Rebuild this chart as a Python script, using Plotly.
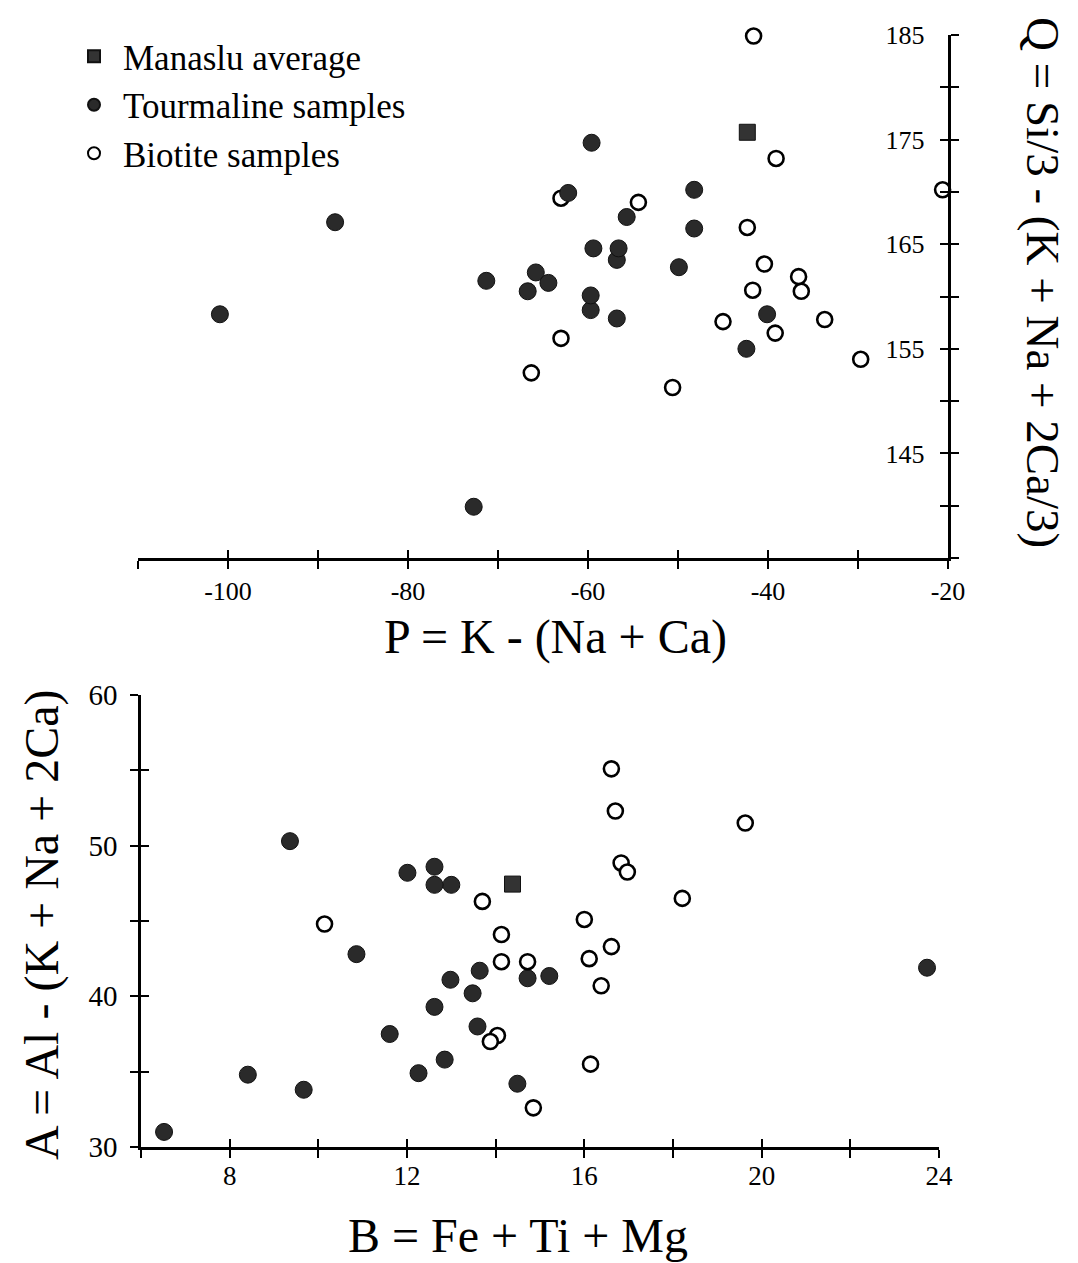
import plotly.graph_objects as go

# ---------------- data: top panel (P vs Q) ----------------
tour_P = [-59.7, -56.8, -100.9, -88.1, -72.7, -71.3, -66.7, -65.8, -64.4, -59.7,
          -56.8, -49.9, -42.4, -40.1, -59.6, -62.2, -48.2, -55.7, -48.2, -59.4, -56.6]
tour_Q = [158.7, 163.5, 158.3, 167.1, 139.9, 161.5, 160.5, 162.3, 161.3, 160.1,
          157.9, 162.8, 155.0, 158.3, 174.7, 169.9, 170.2, 167.6, 166.5, 164.6, 164.6]
bio_P = [-63.0, -36.3, -41.6, -39.1, -20.6, -54.4, -42.3, -40.4, -36.6, -41.7,
         -45.0, -39.2, -33.7, -29.7, -50.6, -63.0, -66.3]
bio_Q = [169.4, 160.5, 184.9, 173.2, 170.2, 169.0, 166.6, 163.1, 161.9, 160.6,
         157.6, 156.5, 157.8, 154.0, 151.3, 156.0, 152.7]
avg_P = [-42.3]
avg_Q = [175.7]

# ---------------- data: bottom panel (B vs A) ----------------
tour_B = [6.52, 8.41, 9.67, 10.86, 11.61, 12.26, 12.62, 12.85, 12.98, 13.48, 13.59,
          13.64, 14.72, 15.21, 14.49, 23.73, 9.36, 12.01, 12.62, 13.0, 12.62]
tour_A = [31.0, 34.8, 33.8, 42.8, 37.5, 34.9, 39.3, 35.8, 41.1, 40.2, 38.0,
          41.7, 41.2, 41.35, 34.2, 41.9, 50.3, 48.2, 48.6, 47.4, 47.4]
bio_B = [13.70, 10.14, 16.61, 16.70, 19.63, 16.83, 16.97, 18.21, 16.0, 14.13,
         14.13, 14.72, 16.11, 16.61, 16.38, 14.04, 13.88, 16.14, 14.85]
bio_A = [46.3, 44.8, 55.1, 52.3, 51.5, 48.85, 48.25, 46.5, 45.1, 44.1,
         42.3, 42.3, 42.5, 43.3, 40.7, 37.4, 37.0, 35.5, 32.6]
avg_B = [14.38]
avg_A = [47.45]

# tick definitions
p_ticks = list(range(-110, -19, 10))
p_labels = ["-100", "-80", "-60", "-40", "-20"]
q_ticks = list(range(135, 186, 5))
q_labels = ["145", "155", "165", "175", "185"]
b_ticks = list(range(6, 25, 2))
b_labels = ["8", "12", "16", "20", "24"]
a_ticks = list(range(30, 61, 5))
a_labels = ["30", "40", "50", "60"]

def ttext(vals, labels):
    return [str(v) if str(v) in labels else "" for v in vals]

W, H = 1078, 1263

def px(X):
    return X / W

def py(Y):
    return 1 - Y / H

FONT = "Liberation Serif"
BLACK = "#000000"
FILL = "#2a2a2a"

filled = dict(symbol="circle", size=17, color=FILL, line=dict(color="#111111", width=1))
openm = dict(symbol="circle", size=15, color="white", line=dict(color=BLACK, width=2.6))
square = dict(symbol="square", size=16, color="#333333", line=dict(color="#111111", width=1))

fig = go.Figure()

# top panel: biotite behind tourmaline
fig.add_trace(go.Scatter(x=bio_P, y=bio_Q, mode="markers", marker=openm, cliponaxis=False,
                         name="Biotite samples", legendrank=3, xaxis="x", yaxis="y"))
fig.add_trace(go.Scatter(x=tour_P, y=tour_Q, mode="markers", marker=filled, cliponaxis=False,
                         name="Tourmaline samples", legendrank=2, xaxis="x", yaxis="y"))
fig.add_trace(go.Scatter(x=avg_P, y=avg_Q, mode="markers", marker=square, cliponaxis=False,
                         name="Manaslu average", legendrank=1, xaxis="x", yaxis="y"))

# bottom panel: tourmaline behind biotite
fig.add_trace(go.Scatter(x=tour_B, y=tour_A, mode="markers", marker=filled, cliponaxis=False,
                         showlegend=False, xaxis="x2", yaxis="y2"))
fig.add_trace(go.Scatter(x=bio_B, y=bio_A, mode="markers", marker=openm, cliponaxis=False,
                         showlegend=False, xaxis="x2", yaxis="y2"))
fig.add_trace(go.Scatter(x=avg_B, y=avg_A, mode="markers", marker=square, cliponaxis=False,
                         showlegend=False, xaxis="x2", yaxis="y2"))

# empty traces to hold the overlay tick axes (inner half of crossing ticks)
fig.add_trace(go.Scatter(x=[], y=[], showlegend=False, xaxis="x3", yaxis="y3"))
fig.add_trace(go.Scatter(x=[], y=[], showlegend=False, xaxis="x4", yaxis="y4"))

tickfont = dict(family=FONT, size=26, color=BLACK)
common = dict(showgrid=False, zeroline=False, tickmode="array", tickcolor=BLACK,
              tickwidth=2, ticklen=8, automargin=False, ticklabeloverflow="allow")

top_dx = [px(138), px(948)]
top_dy = [py(558), py(35)]
bot_dx = [px(141), px(939)]
bot_dy = [py(1147), py(695)]

fig.update_layout(
    template="none",
    width=W, height=H,
    margin=dict(l=0, r=0, t=0, b=0, pad=0),
    paper_bgcolor="white", plot_bgcolor="rgba(0,0,0,0)",
    font=dict(family=FONT, color=BLACK),
    xaxis=dict(domain=top_dx, range=[-110, -20], anchor="y", showline=True,
               linecolor=BLACK, linewidth=2.5, ticks="outside",
               tickvals=p_ticks, ticktext=ttext(p_ticks, p_labels),
               tickfont=tickfont, **common),
    yaxis=dict(domain=top_dy, range=[135, 185], anchor="x", side="right",
               showline=True, linecolor=BLACK, linewidth=2.5, ticks="outside",
               ticklabelposition="inside", ticklabelstandoff=26,
               tickvals=q_ticks, ticktext=ttext(q_ticks, q_labels),
               tickfont=tickfont, **common),
    xaxis3=dict(overlaying="x", range=[-110, -20], anchor="y", ticks="inside",
                tickvals=p_ticks, showticklabels=False, showline=False, **common),
    yaxis3=dict(overlaying="y", range=[135, 185], anchor="x", side="right",
                ticks="inside", tickvals=q_ticks, showticklabels=False,
                showline=False, **common),
    xaxis2=dict(domain=bot_dx, range=[6, 24], anchor="y2", showline=True,
                linecolor=BLACK, linewidth=2.5, ticks="outside",
                ticklabelstandoff=-5,
                tickvals=b_ticks, ticktext=ttext(b_ticks, b_labels),
                tickfont=dict(family=FONT, size=27, color=BLACK), **common),
    yaxis2=dict(domain=bot_dy, range=[30, 60], anchor="x2", side="left",
                showline=True, linecolor=BLACK, linewidth=2.5, ticks="outside",
                ticklabelstandoff=7,
                tickvals=a_ticks, ticktext=ttext(a_ticks, a_labels),
                tickfont=dict(family=FONT, size=29, color=BLACK), **common),
    xaxis4=dict(overlaying="x2", range=[6, 24], anchor="y2", ticks="inside",
                tickvals=b_ticks, showticklabels=False, showline=False, **common),
    yaxis4=dict(overlaying="y2", range=[30, 60], anchor="x2", side="left",
                ticks="inside", tickvals=a_ticks, showticklabels=False,
                showline=False, **common),
    legend=dict(x=px(65), y=py(27), xanchor="left", yanchor="top",
                font=dict(family=FONT, size=35, color=BLACK),
                itemsizing="constant", itemwidth=48, bgcolor="rgba(0,0,0,0)",
                borderwidth=0, tracegroupgap=0),
    showlegend=True,
)

tfont = dict(family=FONT, size=48, color=BLACK)
fig.add_annotation(text="P = K - (Na + Ca)", xref="paper", yref="paper",
                   x=px(555), y=py(637), xanchor="center", yanchor="middle",
                   showarrow=False, font=tfont)
fig.add_annotation(text="Q = Si/3 - (K + Na + 2Ca/3)", xref="paper", yref="paper",
                   x=px(1043), y=py(282), xanchor="center", yanchor="middle",
                   textangle=90, showarrow=False, font=dict(family=FONT, size=47, color=BLACK))
fig.add_annotation(text="B = Fe + Ti + Mg", xref="paper", yref="paper",
                   x=px(518), y=py(1235), xanchor="center", yanchor="middle",
                   showarrow=False, font=tfont)
fig.add_annotation(text="A = Al - (K + Na + 2Ca)", xref="paper", yref="paper",
                   x=px(42), y=py(925), xanchor="center", yanchor="middle",
                   textangle=-90, showarrow=False, font=tfont)

fig.write_html("out.html", config={"displayModeBar": False},
               post_script="document.body.style.margin='0px';")
